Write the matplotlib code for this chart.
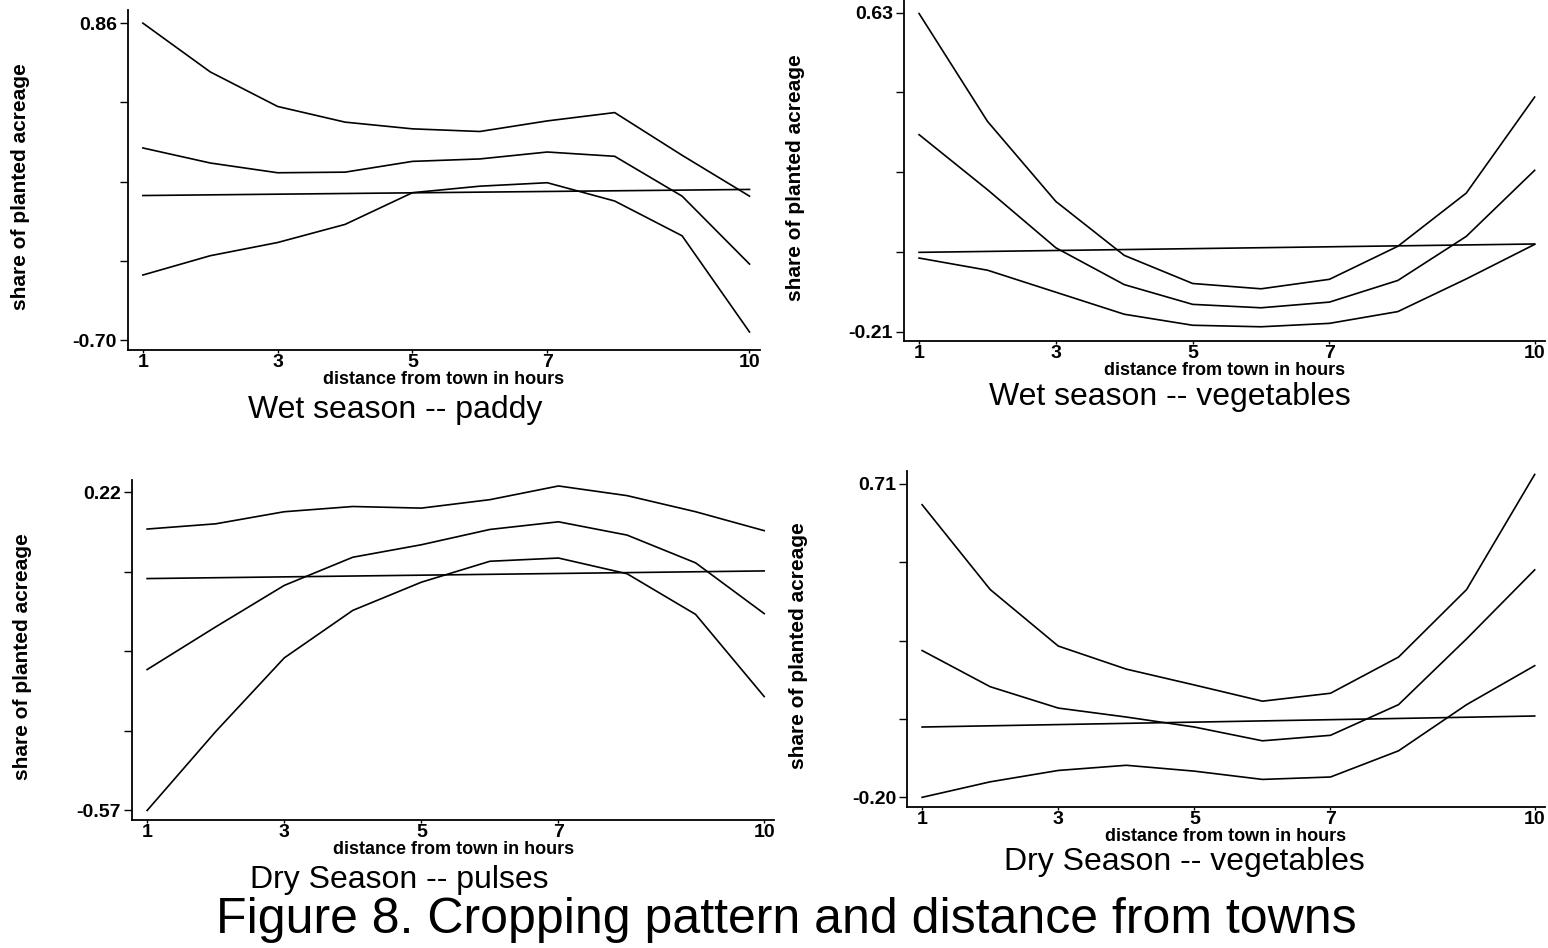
import numpy as np
import matplotlib
matplotlib.use('Agg')
import matplotlib.pyplot as plt

plt.rcParams['font.family'] = ['Liberation Sans', 'DejaVu Sans']

# distance from town in hours
hours = [1, 2, 3, 4, 5, 6, 7, 8, 9, 10]
hours_ends = [1, 10]
xticks = [1, 3, 5, 7, 10]

# wet season - paddy
paddy_upper = [0.86, 0.62, 0.45, 0.373, 0.34, 0.327, 0.379, 0.42, 0.21, 0.009]
paddy_mid = [0.246, 0.172, 0.124, 0.127, 0.18, 0.192, 0.226, 0.205, 0.009, -0.325]
paddy_lower = [-0.379, -0.284, -0.219, -0.13, 0.026, 0.058, 0.075, -0.015, -0.186, -0.659]
paddy_flat = [0.012, 0.042]
paddy_ticks = [-0.70, 0.86]

# wet season - vegetables
wveg_upper = [0.628, 0.344, 0.133, -0.009, -0.083, -0.097, -0.072, 0.015, 0.155, 0.408]
wveg_mid = [0.309, 0.164, 0.011, -0.086, -0.138, -0.147, -0.132, -0.075, 0.041, 0.215]
wveg_lower = [-0.016, -0.048, -0.106, -0.164, -0.193, -0.197, -0.188, -0.157, -0.071, 0.02]
wveg_flat = [-0.001, 0.021]
wveg_ticks = [-0.21, 0.63]

# dry season - pulses
pulse_upper = [0.129, 0.142, 0.172, 0.185, 0.181, 0.202, 0.236, 0.212, 0.172, 0.125]
pulse_mid = [-0.22, -0.114, -0.011, 0.059, 0.09, 0.128, 0.147, 0.114, 0.045, -0.081]
pulse_lower = [-0.57, -0.374, -0.191, -0.073, -0.003, 0.049, 0.057, 0.018, -0.083, -0.287]
pulse_flat = [0.006, 0.025]
pulse_ticks = [-0.57, 0.22]

# dry season - vegetables
dveg_upper = [0.649, 0.403, 0.239, 0.172, 0.126, 0.079, 0.102, 0.207, 0.403, 0.737]
dveg_mid = [0.226, 0.121, 0.059, 0.033, 0.004, -0.036, -0.02, 0.069, 0.26, 0.46]
dveg_lower = [-0.20, -0.155, -0.122, -0.107, -0.124, -0.148, -0.141, -0.065, 0.069, 0.182]
dveg_flat = [0.004, 0.036]
dveg_ticks = [-0.20, 0.71]

panels = [
    ('Wet season -- paddy', paddy_upper, paddy_mid, paddy_lower, paddy_flat, paddy_ticks,
     [0.0827, 0.631, 0.408, 0.358], (0.255, 0.568)),
    ('Wet season -- vegetables', wveg_upper, wveg_mid, wveg_lower, wveg_flat, wveg_ticks,
     [0.584, 0.640, 0.414, 0.360], (0.756, 0.581)),
    ('Dry Season -- pulses', pulse_upper, pulse_mid, pulse_lower, pulse_flat, pulse_ticks,
     [0.0853, 0.135, 0.415, 0.359], (0.258, 0.072)),
    ('Dry Season -- vegetables', dveg_upper, dveg_mid, dveg_lower, dveg_flat, dveg_ticks,
     [0.586, 0.149, 0.412, 0.354], (0.765, 0.091)),
]

fig = plt.figure(figsize=(15.48, 9.48), dpi=100)

for title, up, mid, low, flat, ticks, rect, tpos in panels:
    ax = fig.add_axes(rect)
    for ys in (up, mid, low):
        ax.plot(hours, ys, color='black', lw=1.2)
    ax.plot(hours_ends, flat, color='black', lw=1.2)

    lo, hi = ticks
    span = hi - lo
    ax.set_ylim(lo - 0.03 * span, hi + 0.04 * span)
    ax.set_xlim(0.78, 10.15)
    ax.set_yticks(np.linspace(lo, hi, 5))
    ax.set_yticklabels([f'{lo:.2f}', '', '', '', f'{hi:.2f}'],
                       fontsize=14, fontweight='bold')
    ax.set_xticks(xticks)
    ax.set_xticklabels([str(t) for t in xticks], fontsize=14, fontweight='bold')
    ax.tick_params(axis='y', length=6, width=1, pad=2)
    ax.tick_params(axis='x', length=2, width=1, pad=1)
    for s in ('top', 'right'):
        ax.spines[s].set_visible(False)
    for s in ('left', 'bottom'):
        ax.spines[s].set_linewidth(1.3)
    ax.set_xlabel('distance from town in hours', fontsize=13, fontweight='bold',
                  labelpad=0)
    ax.set_ylabel('share of planted acreage', fontsize=15, fontweight='bold')
    ax.yaxis.set_label_coords(-0.155, 0.48)
    fig.text(tpos[0], tpos[1], title, fontsize=23, ha='center', va='center')

fig.text(0.508, 0.03, 'Figure 8. Cropping pattern and distance from towns',
         fontsize=36, ha='center', va='center')

fig.savefig('out.png', dpi=100)
